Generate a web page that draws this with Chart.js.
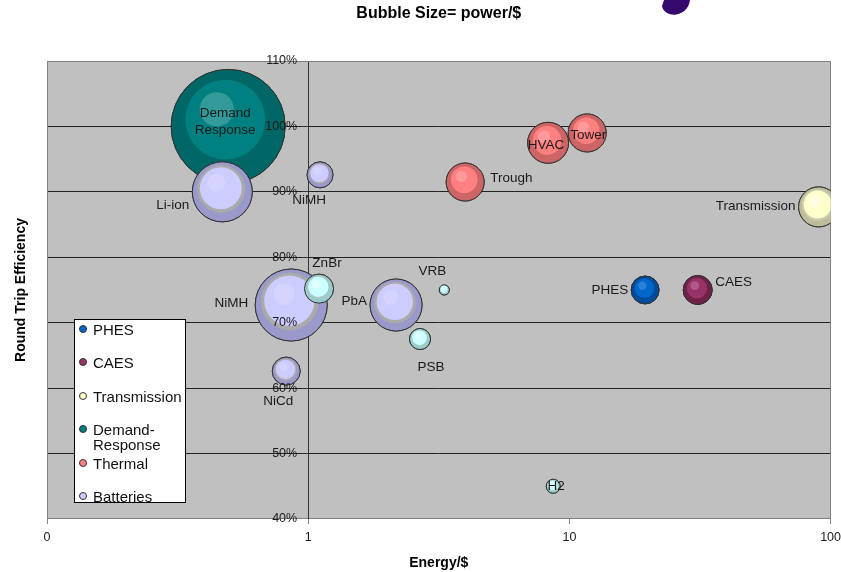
<!DOCTYPE html>
<html>
<head>
<meta charset="utf-8">
<script src="https://cdn.jsdelivr.net/npm/chart.js@4.4.1/dist/chart.umd.min.js"></script>
<style>
  html, body { margin: 0; padding: 0; background: #ffffff; }
  #wrap { position: relative; width: 841px; height: 572px; overflow: hidden; }
  #c { position: absolute; left: 0; top: 0; }
  #glyph { position: absolute; left: 0; top: 0; }
  #legend { position: absolute; left: 74px; top: 319px; width: 110px; height: 182px;
    background: #ffffff; border: 1px solid #000000;
    font-family: "Liberation Sans", Arial, sans-serif; font-size: 15px; color: #111111; }
  .item { position: absolute; left: 18px; width: 92px; line-height: 15px; }
  .mk { position: absolute; left: -14px; top: 3px; width: 8px; height: 8px; border-radius: 50%;
    border: 1px solid #333333; box-sizing: border-box; }
</style>
</head>
<body>
<div id="wrap">
  <canvas id="c" width="841" height="572"></canvas>
  <svg id="glyph" width="841" height="20"><path d="M664 0 L690 0 C689 7 685 13 676 14.5 C669 15.5 663 12 662 6 Z" fill="#35086e"/></svg>
  <div id="legend"></div>
</div>
<script>
// ---------------- data ----------------
const seriesNames = ['PHES', 'CAES', 'Transmission', 'Demand-Response', 'Thermal', 'Batteries'];

const pointNames = ['PHES', 'CAES', 'Transmission', 'Demand\nResponse', 'Trough', 'HVAC', 'Tower',
  'Li-ion', 'NiMH', 'NiMH', 'PbA', 'NiCd', 'ZnBr', 'VRB', 'PSB', 'H2'];
const pointSeries = [0, 1, 2, 3, 4, 4, 4, 5, 5, 5, 5, 5, 5, 5, 5, 5];
const energyPerDollar = [19.5, 31, 90, 0.494, 3.99, 8.29, 11.7, 0.469, 1.11, 0.861, 2.17, 0.824, 1.10, 3.32, 2.68, 8.67];
const roundTripEfficiency = [75, 75, 87.7, 100, 91.5, 97.5, 99, 90, 92.6, 72.7, 72.7, 62.6, 75.2, 75, 67.5, 45];
const powerPerDollar = [6.0, 6.5, 12.3, 100, 11.1, 12.9, 11.1, 27.7, 5.2, 39.9, 20.8, 6.0, 6.5, 0.77, 3.4, 1.5];
const flowBatteries = ['ZnBr', 'VRB', 'PSB', 'H2'];

const xTickValues = [0.1, 1, 10, 100];
const xTickLabels = ['0', '1', '10', '100'];
const yTickValues = [40, 50, 60, 70, 80, 90, 100, 110];

// ---------------- styles ----------------
const FONT = "'Liberation Sans', Arial, sans-serif";
const MAX_R = 57;
const seriesStyle = [
  { outer: '#004c99', inner: '#0066cc', hl: '#2a80d6', legend: '#0066cc' },
  { outer: '#6e2248', inner: '#993366', hl: '#b0588a', legend: '#993366' },
  { outer: '#bdbd9a', ring: '#c9c9b0', inner: '#ffffcc', hl: '#ffffe0', legend: '#ffffcc' },
  { outer: '#006666', inner: '#008080', hl: '#339999', legend: '#008080' },
  { outer: '#cc6666', inner: '#ff8080', hl: '#ff9a9a', legend: '#ff8080' },
  { outer: '#9999cc', ring: '#aaaaaa', inner: '#ccccff', hl: '#d4d4ff', legend: '#ccccff' }
];
const flowStyle = { outer: '#99cccc', ring: '#a8c8c8', inner: '#ccffff', hl: '#e0ffff' };

// label placement (side + pixel nudge), aligned with pointNames
const labelPlace = [
  { side: 'left', dx: 0, dy: 0 },
  { side: 'right', dx: 0, dy: -8 },
  { side: 'left', dx: 0, dy: -1 },
  { side: 'center', dx: -3, dy: -5 },
  { side: 'right', dx: 3, dy: -4 },
  { side: 'center', dx: -2, dy: 3 },
  { side: 'center', dx: 1, dy: 2 },
  { side: 'left', dx: 0, dy: 13 },
  { side: 'below', dx: -11, dy: 12 },
  { side: 'left', dx: -4, dy: -2 },
  { side: 'left', dx: 0, dy: -4 },
  { side: 'below', dx: -8, dy: 16 },
  { side: 'above', dx: 8, dy: -11 },
  { side: 'above', dx: -12, dy: -14 },
  { side: 'below', dx: 11, dy: 18 },
  { side: 'center', dx: 3, dy: 0 }
];

function radiusFor(p) { return MAX_R * Math.sqrt(p / 100); }
function styleFor(k) {
  if (flowBatteries.includes(pointNames[k])) return flowStyle;
  return seriesStyle[pointSeries[k]];
}

// ---------------- datasets ----------------
const datasets = seriesNames.map((name, s) => {
  const data = [];
  pointNames.forEach((pn, k) => {
    if (pointSeries[k] === s) data.push({ x: energyPerDollar[k], y: roundTripEfficiency[k], r: radiusFor(powerPerDollar[k]), k: k });
  });
  return {
    label: name,
    data: data,
    order: seriesNames.length - s,
    clip: 0,
    backgroundColor: data.map(d => styleFor(d.k).outer),
    borderColor: '#333333',
    borderWidth: 1
  };
});

// ---------------- legend (HTML) ----------------
const legendEl = document.getElementById('legend');
seriesNames.forEach((name, s) => {
  const it = document.createElement('div');
  it.className = 'item';
  it.style.top = (2 + s * 33.4) + 'px';
  const mk = document.createElement('span');
  mk.className = 'mk';
  mk.style.background = seriesStyle[s].legend;
  it.appendChild(mk);
  it.appendChild(document.createTextNode(name));
  legendEl.appendChild(it);
});

// ---------------- plugins ----------------
const plotBg = {
  id: 'plotBg',
  beforeDraw(chart) {
    const { ctx, chartArea: a } = chart;
    ctx.save();
    ctx.fillStyle = '#c0c0c0';
    ctx.fillRect(a.left, a.top, a.right - a.left, a.bottom - a.top);
    ctx.restore();
  },
  beforeDatasetsDraw(chart) {
    const { ctx, chartArea: a } = chart;
    ctx.save();
    ctx.strokeStyle = '#808080';
    ctx.lineWidth = 1;
    ctx.beginPath();
    ctx.moveTo(Math.round(a.left) + 0.5, a.bottom);
    ctx.lineTo(Math.round(a.left) + 0.5, Math.round(a.top) + 0.5);
    ctx.lineTo(Math.round(a.right) - 0.5, Math.round(a.top) + 0.5);
    ctx.lineTo(Math.round(a.right) - 0.5, a.bottom);
    ctx.stroke();
    ctx.restore();
  }
};

function disc(ctx, x, y, r, fill, stroke) {
  ctx.beginPath();
  ctx.arc(x, y, r, 0, Math.PI * 2);
  ctx.fillStyle = fill;
  ctx.fill();
  if (stroke) { ctx.lineWidth = 1; ctx.strokeStyle = stroke; ctx.stroke(); }
}

const bubble3d = {
  id: 'bubble3d',
  afterDatasetDraw(chart, args) {
    const { ctx, chartArea: a } = chart;
    const ds = chart.data.datasets[args.index];
    ctx.save();
    ctx.beginPath();
    ctx.rect(a.left, a.top, a.right - a.left, a.bottom - a.top);
    ctx.clip();
    args.meta.data.forEach((el, j) => {
      const st = styleFor(ds.data[j].k);
      const R = el.options.radius;
      const x = el.x, y = el.y;
      disc(ctx, x, y, R, st.outer, '#333333');
      if (st.ring) disc(ctx, x - 0.04 * R, y - 0.1 * R, 0.8 * R, st.ring);
      disc(ctx, x - 0.05 * R, y - 0.12 * R, 0.7 * R, st.inner);
      disc(ctx, x - 0.2 * R, y - 0.3 * R, 0.3 * R, st.hl);
    });
    ctx.restore();
  }
};

const textLayer = {
  id: 'textLayer',
  afterDatasetsDraw(chart) {
    const { ctx } = chart;
    const xs = chart.scales.x, ys = chart.scales.y;
    ctx.save();
    // y tick labels, on top of bubbles
    ctx.font = '12.5px ' + FONT;
    ctx.fillStyle = '#1a1a1a';
    ctx.textAlign = 'right';
    ctx.textBaseline = 'middle';
    const axX = xs.getPixelForValue(1);
    yTickValues.forEach(v => ctx.fillText(v + '%', axX - 11, ys.getPixelForValue(v)));
    // data labels
    ctx.font = '13.5px ' + FONT;
    pointNames.forEach((name, k) => {
      const px = xs.getPixelForValue(energyPerDollar[k]);
      const py = ys.getPixelForValue(roundTripEfficiency[k]);
      const r = radiusFor(powerPerDollar[k]);
      const pl = labelPlace[k];
      let ax = px, ay = py, align = 'center';
      if (pl.side === 'left') { ax = px - r - 3; align = 'right'; }
      else if (pl.side === 'right') { ax = px + r + 3; align = 'left'; }
      else if (pl.side === 'above') { ay = py - r; }
      else if (pl.side === 'below') { ay = py + r; }
      ctx.textAlign = align;
      const lines = name.split('\n');
      const lh = 17;
      lines.forEach((ln, i) => {
        ctx.fillText(ln, ax + pl.dx, ay + pl.dy + (i - (lines.length - 1) / 2) * lh);
      });
    });
    ctx.restore();
  }
};

// ---------------- chart ----------------
Chart.defaults.font.family = FONT;
new Chart(document.getElementById('c'), {
  type: 'bubble',
  data: { datasets: datasets },
  plugins: [plotBg, bubble3d, textLayer],
  options: {
    responsive: false,
    devicePixelRatio: 1,
    animation: false,
    events: [],
    layout: { autoPadding: false, padding: { left: 0, right: 0, top: 0, bottom: 0 } },
    plugins: {
      legend: { display: false },
      tooltip: { enabled: false },
      title: {
        display: true,
        text: 'Bubble Size= power/$',
        fullSize: false,
        color: '#000000',
        font: { size: 16, weight: 'bold' },
        padding: { top: 4.4, bottom: 37.4 }
      }
    },
    scales: {
      x: {
        type: 'logarithmic',
        position: 'bottom',
        min: 0.1,
        max: 100,
        afterBuildTicks: (scale) => { scale.ticks = xTickValues.map(v => ({ value: v })); },
        ticks: {
          autoSkip: false, maxRotation: 0, padding: 0,
          color: '#1a1a1a', font: { size: 12.5, lineHeight: 2.1 },
          callback: (v) => { const i = xTickValues.indexOf(v); return i >= 0 ? xTickLabels[i] : ''; }
        },
        grid: { display: true, drawOnChartArea: false, drawTicks: true, tickLength: 5, color: '#808080' },
        border: { display: true, color: '#808080' },
        title: { display: true, text: 'Energy/$', color: '#000000', font: { size: 14, weight: 'bold' }, padding: { top: 4.4, bottom: 0.6 } }
      },
      y: {
        type: 'linear',
        position: { x: 1 },
        min: 40,
        max: 110,
        ticks: { display: false, stepSize: 10 },
        grid: {
          color: (c) => (c.tick && c.tick.value === 110) ? '#808080' : (c.tick && c.tick.value === 40 ? 'rgba(0,0,0,0)' : '#222222'),
          tickColor: '#333333',
          tickLength: 6
        },
        border: { display: true, color: '#333333' }
      },
      yTitle: {
        type: 'linear',
        position: 'left',
        display: true,
        grid: { display: false, drawTicks: false },
        border: { display: false },
        ticks: { display: false },
        title: { display: true, text: 'Round Trip Efficiency', color: '#000000', font: { size: 14, weight: 'bold' }, padding: { top: 12.6, bottom: 17.6 } }
      }
    }
  }
});
</script>
</body>
</html>
